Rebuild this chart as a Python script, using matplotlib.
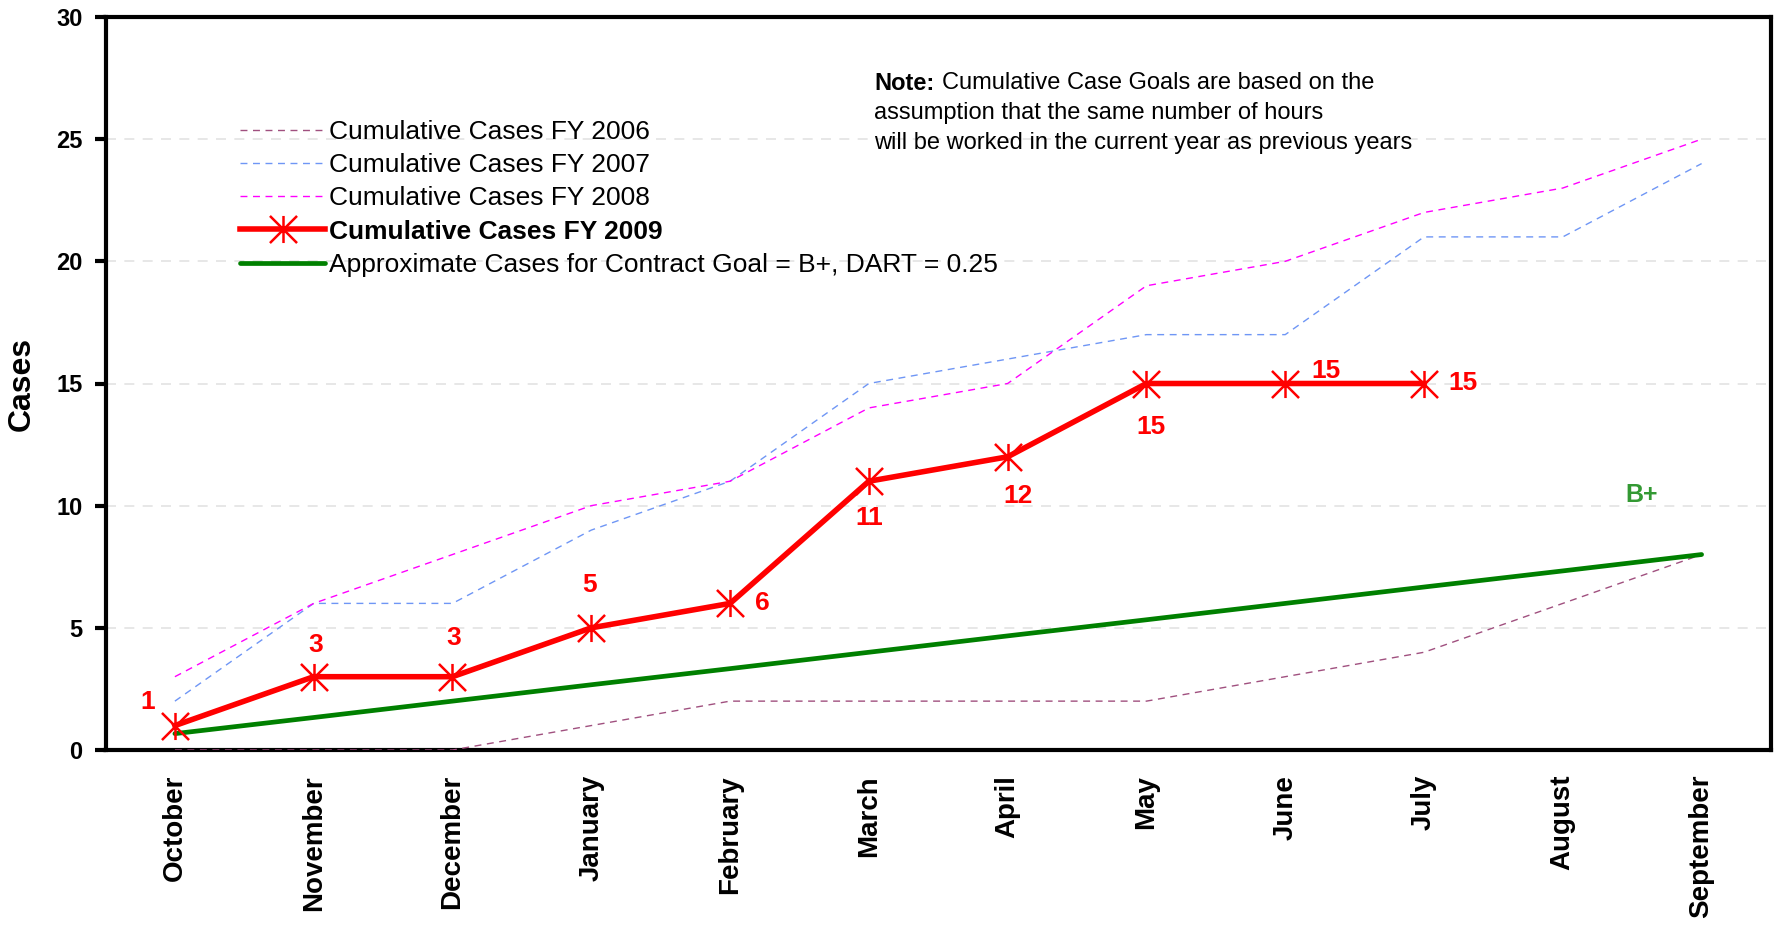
import matplotlib
matplotlib.use("Agg")
from matplotlib import pyplot as plt
from matplotlib.path import Path

plt.rcParams['font.family'] = ['Liberation Sans', 'DejaVu Sans']

months = ["October", "November", "December", "January", "February", "March",
          "April", "May", "June", "July", "August", "September"]
fy2006 = [0, 0, 0, 1, 2, 2, 2, 2, 3, 4, 6, 8]
fy2007 = [2, 6, 6, 9, 11, 15, 16, 17, 17, 21, 21, 24]
fy2008 = [3, 6, 8, 10, 11, 14, 15, 19, 20, 22, 23, 25]
fy2009 = [1, 3, 3, 5, 6, 11, 12, 15, 15, 15]
goal = [0.67, 1.33, 2, 2.67, 3.33, 4, 4.67, 5.33, 6, 6.67, 7.33, 8]

# label offsets in pixels (dx, dy) for each FY 2009 point
label_offsets = [(-27, 24), (2, 32), (1, 39), (-2, 43), (32, 0), (0, -37),
                 (10, -39), (5, -43), (41, 12), (39, 0)]

note_lines = ["Cumulative Case Goals are based on the",
              "assumption that the same number of hours",
              "will be worked in the current year as previous years"]

# excel style asterisk: vertical bar plus an X
star = Path([(0, -1), (0, 1), (-1, -1), (1, 1), (-1, 1), (1, -1)],
            [Path.MOVETO, Path.LINETO, Path.MOVETO, Path.LINETO, Path.MOVETO, Path.LINETO])

x = list(range(len(months)))

fig = plt.figure(figsize=(17.79, 9.25), dpi=100)
ax = fig.add_axes([105.5 / 1779, 1 - 750 / 925, 1665.5 / 1779, 733 / 925])

ax.plot(x, fy2006, color='#a0507f', lw=1.0, dashes=(5, 4), label='Cumulative Cases FY 2006', zorder=3)
ax.plot(x, fy2007, color='#6f96f5', lw=1.0, dashes=(5, 4), label='Cumulative Cases FY 2007', zorder=3)
ax.plot(x, fy2008, color='#ff00ff', lw=1.0, dashes=(5, 4), label='Cumulative Cases FY 2008', zorder=3)
ax.plot(x[:len(fy2009)], fy2009, color='#ff0000', lw=4, marker=star, ms=19.5,
        mew=1.8, label='Cumulative Cases FY 2009', zorder=5)
ax.plot(x, goal, color='#008000', lw=3.4, solid_capstyle='round',
        label='Approximate Cases for Contract Goal = B+, DART = 0.25', zorder=4)

for xi, v, (dx, dy) in zip(x, fy2009, label_offsets):
    ax.annotate(str(v), (xi, v), xytext=(dx, dy), textcoords='offset pixels',
                ha='center', va='center', color='#ff0000', fontsize=19,
                fontweight='bold', zorder=6)

ax.annotate('B+', (x[-1], goal[-1]), xytext=(-60, 60), textcoords='offset pixels',
            ha='center', va='center', color='#339933', fontsize=18, fontweight='bold')

# note box, one text per line
note_x = (874 - 105.5) / 1665.5
for i, (line, ypix) in enumerate(zip(note_lines, [83, 113, 143])):
    yfrac = (750 - ypix) / 733
    if i == 0:
        ax.text(note_x, yfrac, "Note:", transform=ax.transAxes, ha='left', va='center',
                fontsize=17, fontweight='bold')
        ax.annotate(line, (note_x, yfrac), xycoords='axes fraction', xytext=(68, 0),
                    textcoords='offset pixels', ha='left', va='center', fontsize=17)
    else:
        ax.text(note_x, yfrac, line, transform=ax.transAxes, ha='left', va='center', fontsize=17)

ax.set_xlim(-0.5, 11.5)
ax.set_ylim(0, 30)
ax.set_yticks([0, 5, 10, 15, 20, 25, 30])
ax.set_xticks(x)
ax.set_xticklabels(months, rotation=90, fontsize=20, fontweight='bold')
ax.tick_params(axis='x', length=0, pad=18)
ax.tick_params(axis='y', length=8, width=3, labelsize=17, pad=8.5)
for lab in ax.get_yticklabels():
    lab.set_fontweight('bold')
ax.set_ylabel('Cases', fontsize=23, fontweight='bold')
ax.yaxis.set_label_coords(-0.041, 0.5)

ax.grid(axis='y', color='#e3e3e3', linestyle=(0, (6, 5)), lw=1.2, zorder=0)
for sp in ax.spines.values():
    sp.set_linewidth(3)

leg = ax.legend(loc='upper left', bbox_to_anchor=(0.081, 0.8597), frameon=False,
                fontsize=19, borderpad=0, borderaxespad=0, handlelength=3.2,
                handletextpad=0.15, labelspacing=0.35, numpoints=1)
leg.get_texts()[3].set_fontweight('bold')

fig.savefig('out.png', dpi=100)
